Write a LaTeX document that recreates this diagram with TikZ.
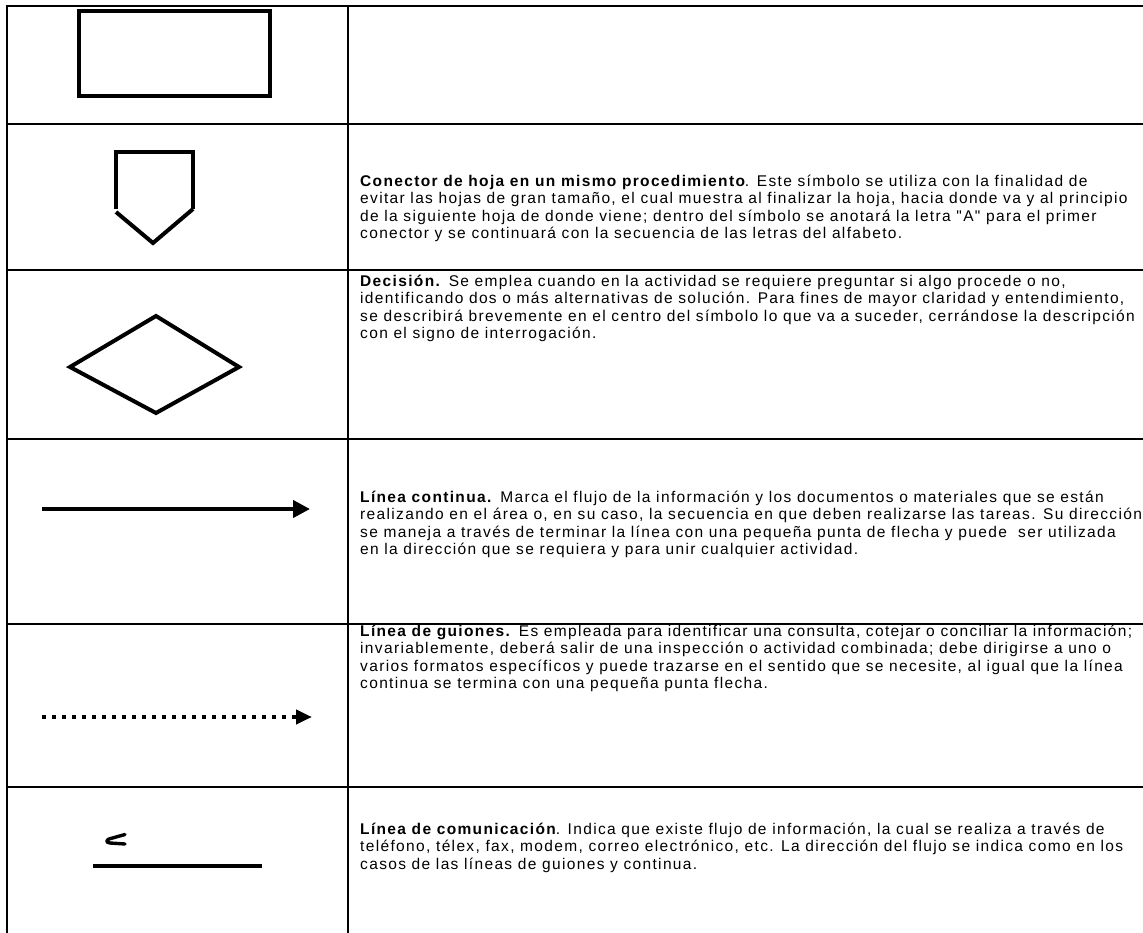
\documentclass[tikz,border=0pt]{standalone}
\usepackage{fontspec}
\setmainfont[LetterSpace=8.7,Ligatures=TeXOff]{Liberation Sans}
\usetikzlibrary{arrows.meta,positioning}

\tikzset{
  tabline/.style={line width=2.2pt},
  symline/.style={line width=4pt},
  procbox/.style={draw, line width=4.3pt, minimum width=191pt, minimum height=85pt, inner sep=0pt},
  desc/.style={anchor=north west, inner sep=0pt, align=left, font=\fontsize{15.5}{17.5}\selectfont},
}

\begin{document}
\begin{tikzpicture}[x=1pt,y=-1pt]
    \useasboundingbox (0,0) rectangle (1143,933);
    \foreach \yy in {6,124,270,439,624,787}
        \draw[tabline] (7,\yy) -- (1143,\yy);
    \draw[tabline] (7,5) -- (7,933);
    \draw[tabline] (348,5) -- (348,933);

    \node[procbox] (proc) at (174.5,53.5) {};

    \coordinate (c_tl) at (116,152);
    \coordinate (c_tr) at (193,152);
    \coordinate (c_l) at (116,209);
    \coordinate (c_lb) at (116,212);
    \coordinate (c_r) at (193,209);
    \coordinate (c_b) at (153,243);
    \draw[symline] (c_l) -- (c_tl) -- (c_tr) -- (c_r);
    \draw[symline] (c_lb) -- (c_b) -- (c_r);

    \coordinate (d_w) at (70,367);
    \coordinate (d_n) at (156,316);
    \coordinate (d_e) at (239,367);
    \coordinate (d_s) at (156,413);
    \draw[symline] (d_w) -- (d_n) -- (d_e) -- (d_s) -- cycle;

    \coordinate (f_a) at (42,509);
    \coordinate (f_b) at (310,509);
    \draw[symline, -{Triangle[length=17pt,width=17pt]}] (f_a) -- (f_b);

    \coordinate (g_a) at (42,717);
    \coordinate (g_b) at (312,717);
    \draw[symline, dash pattern=on 4pt off 6pt, -{Triangle[length=16pt,width=14pt]}] (g_a) -- (g_b);

    \coordinate (k_a) at (93,866);
    \coordinate (k_b) at (262,866);
    \draw[line width=3.5pt] (k_a) -- (k_b);
    \draw[line width=3.4pt, line cap=round, line join=round] (125,834.5) -- (109,839) .. controls (106,840.5) and (106,842.5) .. (110,843) -- (125,844);

    \node[desc] (t_conn) at (360,173.75) {\strut\textbf{Conector de hoja en un mismo procedimiento}. Este símbolo se utiliza con la finalidad de\\
    evitar las hojas de gran tamaño, el cual muestra al finalizar la hoja, hacia donde va y al principio\\
    de la siguiente hoja de donde viene; dentro del símbolo se anotará la letra "A" para el primer\\
    conector y se continuará con la secuencia de las letras del alfabeto.};

    \node[desc] (t_dec) at (360,273.75) {\strut\textbf{Decisión.} Se emplea cuando en la actividad se requiere preguntar si algo procede o no,\\
    identificando dos o más alternativas de solución. Para fines de mayor claridad y entendimiento,\\
    se describirá brevemente en el centro del símbolo lo que va a suceder, cerrándose la descripción\\
    con el signo de interrogación.};

    \node[desc] (t_cont) at (360,489.75) {\strut\textbf{Línea continua.} Marca el flujo de la información y los documentos o materiales que se están\\
    realizando en el área o, en su caso, la secuencia en que deben realizarse las tareas. Su dirección\\
    se maneja a través de terminar la línea con una pequeña punta de flecha y puede\ \ ser utilizada\\
    en la dirección que se requiera y para unir cualquier actividad.};

    \node[desc] (t_guion) at (360,623.75) {\strut\textbf{Línea de guiones.} Es empleada para identificar una consulta, cotejar o conciliar la información;\\
    invariablemente, deberá salir de una inspección o actividad combinada; debe dirigirse a uno o\\
    varios formatos específicos y puede trazarse en el sentido que se necesite, al igual que la línea\\
    continua se termina con una pequeña punta flecha.};

    \node[desc] (t_com) at (360,821.75) {\strut\textbf{Línea de comunicación}. Indica que existe flujo de información, la cual se realiza a través de\\
    teléfono, télex, fax, modem, correo electrónico, etc. La dirección del flujo se indica como en los\\
    casos de las líneas de guiones y continua.};
\end{tikzpicture}
\end{document}
